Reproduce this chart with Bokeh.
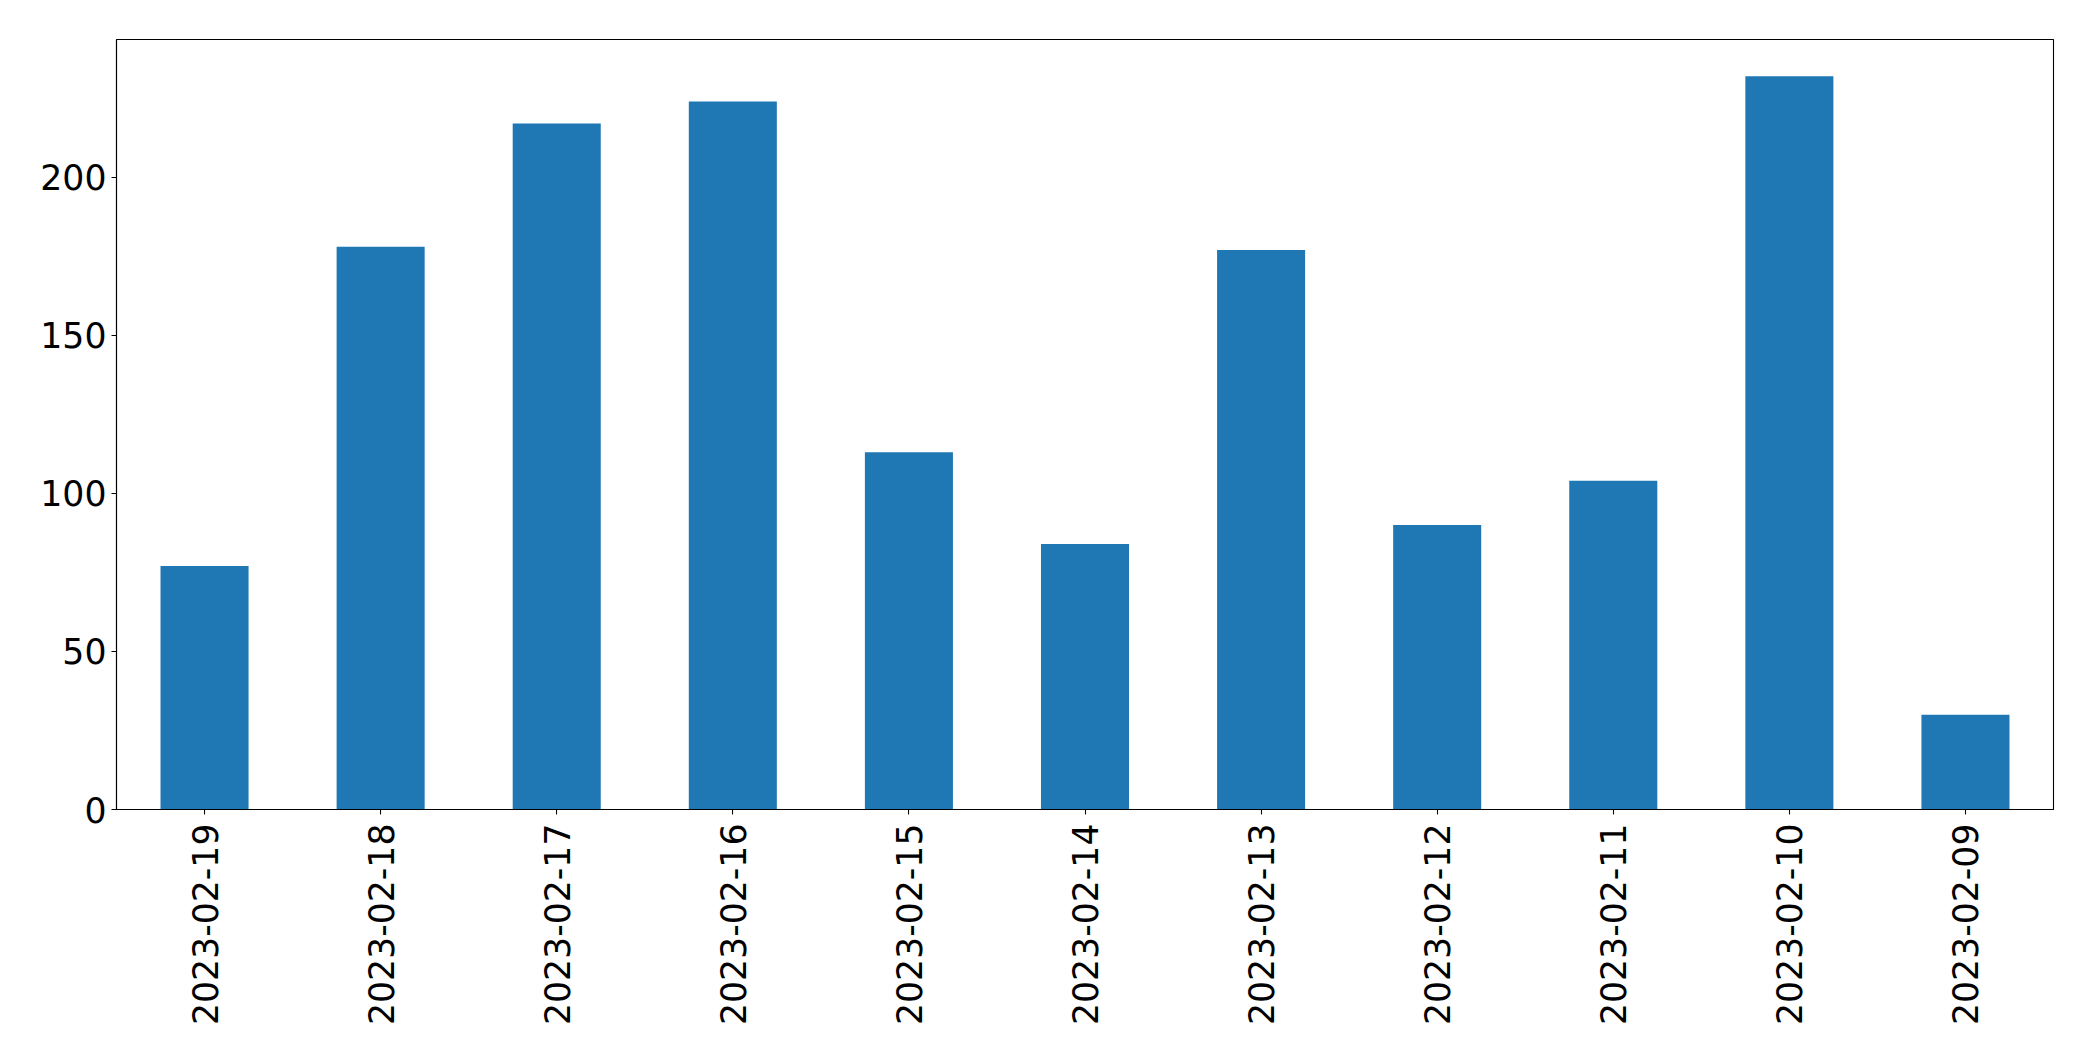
import math
from bokeh.plotting import figure
from bokeh.models import Range1d, FixedTicker, ColumnDataSource
from bokeh.embed import file_html
from bokeh.resources import INLINE

dates = ["2023-02-19", "2023-02-18", "2023-02-17", "2023-02-16", "2023-02-15",
         "2023-02-14", "2023-02-13", "2023-02-12", "2023-02-11", "2023-02-10",
         "2023-02-09"]
counts = [77, 178, 217, 224, 113, 84, 177, 90, 104, 232, 30]
y_ticks = [0, 50, 100, 150, 200]

FONT = "DejaVu Sans"
FS = "34.7px"

src = ColumnDataSource(dict(date=dates, count=counts))

p = figure(x_range=dates, y_range=Range1d(0, max(counts) * 1.05),
           width=2085, height=1045, output_backend="svg", toolbar_location=None,
           min_border_left=116, min_border_top=39, min_border_right=32,
           min_border_bottom=236)

p.vbar(x="date", top="count", width=0.5, source=src,
       fill_color="#1f77b4", line_color=None)

p.xgrid.visible = False
p.ygrid.visible = False
p.outline_line_color = "black"
p.outline_line_width = 1.1
p.background_fill_color = "white"
p.border_fill_color = "white"
p.x_range.range_padding = 0
p.x_range.group_padding = 0
p.x_range.factor_padding = 0

for ax in (p.xaxis[0], p.yaxis[0]):
    ax.axis_line_color = "black"
    ax.axis_line_width = 1.1
    ax.major_tick_line_color = "black"
    ax.major_tick_line_width = 1.1
    ax.major_tick_out = 5
    ax.major_tick_in = 0
    ax.minor_tick_line_color = None
    ax.major_label_text_font = FONT
    ax.major_label_text_font_size = FS
    ax.major_label_text_color = "black"

p.yaxis[0].ticker = FixedTicker(ticks=y_ticks)
p.yaxis[0].major_label_standoff = 5
p.xaxis[0].major_label_orientation = math.pi / 2
p.xaxis[0].major_label_standoff = 9

open("out.html", "w").write(file_html(p, INLINE))
